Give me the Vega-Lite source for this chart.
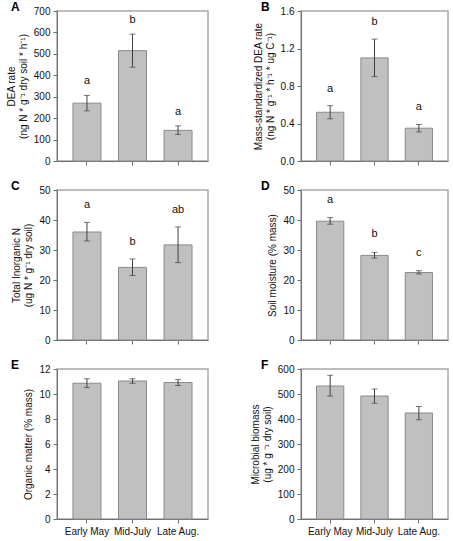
{
  "$schema": "https://vega.github.io/schema/vega-lite/v6.json",
  "background": "white",
  "padding": {"left": 5, "top": 0, "right": 5, "bottom": 2},
  "config": {
    "font": "Liberation Sans",
    "view": {"stroke": "#a8a8a8", "strokeWidth": 1.5},
    "axis": {
      "grid": false,
      "domainColor": "#707070",
      "tickColor": "#707070",
      "labelColor": "#111111",
      "titleColor": "#111111",
      "labelFont": "Liberation Sans",
      "titleFont": "Liberation Sans",
      "labelFontSize": 10,
      "titleFontSize": 10,
      "titleFontWeight": "normal",
      "tickSize": 4,
      "labelPadding": 3,
      "titlePadding": 5,
      "labelOverlap": false,
      "labelFlush": false
    },
    "title": {"font": "Liberation Sans", "fontSize": 12, "fontWeight": "bold", "anchor": "start", "frame": "group", "color": "black"},
    "bar": {"fill": "#c0c0c0", "stroke": "#8a8a8a", "strokeWidth": 1}
  },
  "columns": 2,
  "spacing": {"row": 12, "column": 40},
  "concat": [
    {
      "width": 151, "height": 150,
      "title": {"text": "A", "dx": -46, "offset": -8},
      "data": {"values": [
        {"period": "Early May", "mean": 270, "lo": 234, "hi": 306, "sig": "a"},
        {"period": "Mid-July", "mean": 515, "lo": 438, "hi": 592, "sig": "b"},
        {"period": "Late Aug.", "mean": 143, "lo": 124, "hi": 164, "sig": "a"}
      ]},
      "encoding": {"x": {"field": "period", "type": "nominal", "sort": null, "scale": {"paddingInner": 0.385, "paddingOuter": 0.35}, "axis": {"title": null, "labels": false}}},
      "layer": [
        {"mark": "bar", "encoding": {"y": {"field": "mean", "type": "quantitative", "scale": {"domain": [0, 700]}, "axis": {"values": [0, 100, 200, 300, 400, 500, 600, 700]}, "title": ["DEA rate", "(ng N * g⁻¹ dry soil * h⁻¹)"]}}},
        {"mark": {"type": "errorbar", "ticks": {"size": 6}, "color": "#404040"}, "encoding": {"y": {"field": "lo", "type": "quantitative", "axis": {"values": [0, 100, 200, 300, 400, 500, 600, 700]}, "title": ["DEA rate", "(ng N * g⁻¹ dry soil * h⁻¹)"]}, "y2": {"field": "hi"}}},
        {"mark": {"type": "text", "baseline": "bottom", "dy": -9, "fontSize": 11, "fill": "#111111", "font": "Liberation Sans"}, "encoding": {"y": {"field": "hi", "type": "quantitative", "axis": {"values": [0, 100, 200, 300, 400, 500, 600, 700]}, "title": ["DEA rate", "(ng N * g⁻¹ dry soil * h⁻¹)"]}, "text": {"field": "sig"}}}
      ]
    },
    {
      "width": 147, "height": 150,
      "title": {"text": "B", "dx": -40, "offset": -8},
      "data": {"values": [
        {"period": "Early May", "mean": 0.52, "lo": 0.45, "hi": 0.59, "sig": "a"},
        {"period": "Mid-July", "mean": 1.1, "lo": 0.9, "hi": 1.3, "sig": "b"},
        {"period": "Late Aug.", "mean": 0.35, "lo": 0.31, "hi": 0.39, "sig": "a"}
      ]},
      "encoding": {"x": {"field": "period", "type": "nominal", "sort": null, "scale": {"paddingInner": 0.385, "paddingOuter": 0.35}, "axis": {"title": null, "labels": false}}},
      "layer": [
        {"mark": "bar", "encoding": {"y": {"field": "mean", "type": "quantitative", "scale": {"domain": [0, 1.6]}, "axis": {"values": [0, 0.4, 0.8, 1.2, 1.6], "format": ".1f"}, "title": ["Mass-standardized DEA rate", "(ng N * g⁻¹ * h⁻¹ * ug C⁻¹)"]}}},
        {"mark": {"type": "errorbar", "ticks": {"size": 6}, "color": "#404040"}, "encoding": {"y": {"field": "lo", "type": "quantitative", "axis": {"values": [0, 0.4, 0.8, 1.2, 1.6], "format": ".1f"}, "title": ["Mass-standardized DEA rate", "(ng N * g⁻¹ * h⁻¹ * ug C⁻¹)"]}, "y2": {"field": "hi"}}},
        {"mark": {"type": "text", "baseline": "bottom", "dy": -12, "fontSize": 11, "fill": "#111111", "font": "Liberation Sans"}, "encoding": {"y": {"field": "hi", "type": "quantitative", "axis": {"values": [0, 0.4, 0.8, 1.2, 1.6], "format": ".1f"}, "title": ["Mass-standardized DEA rate", "(ng N * g⁻¹ * h⁻¹ * ug C⁻¹)"]}, "text": {"field": "sig"}}}
      ]
    },
    {
      "width": 151, "height": 150,
      "title": {"text": "C", "dx": -46, "offset": -8},
      "data": {"values": [
        {"period": "Early May", "mean": 36, "lo": 33, "hi": 39.2, "sig": "a"},
        {"period": "Mid-July", "mean": 24.2, "lo": 21.5, "hi": 27, "sig": "b"},
        {"period": "Late Aug.", "mean": 31.7, "lo": 25.8, "hi": 37.7, "sig": "ab"}
      ]},
      "encoding": {"x": {"field": "period", "type": "nominal", "sort": null, "scale": {"paddingInner": 0.385, "paddingOuter": 0.35}, "axis": {"title": null, "labels": false}}},
      "layer": [
        {"mark": "bar", "encoding": {"y": {"field": "mean", "type": "quantitative", "scale": {"domain": [0, 50]}, "axis": {"values": [0, 10, 20, 30, 40, 50]}, "title": ["Total Inorganic N", "(ug N * g⁻¹ dry soil)"]}}},
        {"mark": {"type": "errorbar", "ticks": {"size": 6}, "color": "#404040"}, "encoding": {"y": {"field": "lo", "type": "quantitative", "axis": {"values": [0, 10, 20, 30, 40, 50]}, "title": ["Total Inorganic N", "(ug N * g⁻¹ dry soil)"]}, "y2": {"field": "hi"}}},
        {"mark": {"type": "text", "baseline": "bottom", "dy": -12, "fontSize": 11, "fill": "#111111", "font": "Liberation Sans"}, "encoding": {"y": {"field": "hi", "type": "quantitative", "axis": {"values": [0, 10, 20, 30, 40, 50]}, "title": ["Total Inorganic N", "(ug N * g⁻¹ dry soil)"]}, "text": {"field": "sig"}}}
      ]
    },
    {
      "width": 147, "height": 150,
      "title": {"text": "D", "dx": -40, "offset": -8},
      "data": {"values": [
        {"period": "Early May", "mean": 39.6, "lo": 38.6, "hi": 40.8, "sig": "a"},
        {"period": "Mid-July", "mean": 28.2, "lo": 27.3, "hi": 29.2, "sig": "b"},
        {"period": "Late Aug.", "mean": 22.5, "lo": 22.0, "hi": 23.1, "sig": "c"}
      ]},
      "encoding": {"x": {"field": "period", "type": "nominal", "sort": null, "scale": {"paddingInner": 0.385, "paddingOuter": 0.35}, "axis": {"title": null, "labels": false}}},
      "layer": [
        {"mark": "bar", "encoding": {"y": {"field": "mean", "type": "quantitative", "scale": {"domain": [0, 50]}, "axis": {"values": [0, 10, 20, 30, 40, 50]}, "title": "Soil moisture (% mass)"}}},
        {"mark": {"type": "errorbar", "ticks": {"size": 6}, "color": "#404040"}, "encoding": {"y": {"field": "lo", "type": "quantitative", "axis": {"values": [0, 10, 20, 30, 40, 50]}, "title": "Soil moisture (% mass)"}, "y2": {"field": "hi"}}},
        {"mark": {"type": "text", "baseline": "bottom", "dy": -13, "fontSize": 11, "fill": "#111111", "font": "Liberation Sans"}, "encoding": {"y": {"field": "hi", "type": "quantitative", "axis": {"values": [0, 10, 20, 30, 40, 50]}, "title": "Soil moisture (% mass)"}, "text": {"field": "sig"}}}
      ]
    },
    {
      "width": 151, "height": 150,
      "title": {"text": "E", "dx": -46, "offset": -8},
      "data": {"values": [
        {"period": "Early May", "mean": 10.86, "lo": 10.52, "hi": 11.22},
        {"period": "Mid-July", "mean": 11.04, "lo": 10.86, "hi": 11.22},
        {"period": "Late Aug.", "mean": 10.92, "lo": 10.68, "hi": 11.15}
      ]},
      "encoding": {"x": {"field": "period", "type": "nominal", "sort": null, "scale": {"paddingInner": 0.385, "paddingOuter": 0.35}, "axis": {"title": null, "labelAngle": 0}}},
      "layer": [
        {"mark": "bar", "encoding": {"y": {"field": "mean", "type": "quantitative", "scale": {"domain": [0, 12]}, "axis": {"values": [0, 2, 4, 6, 8, 10, 12]}, "title": "Organic matter (% mass)"}}},
        {"mark": {"type": "errorbar", "ticks": {"size": 6}, "color": "#404040"}, "encoding": {"y": {"field": "lo", "type": "quantitative", "axis": {"values": [0, 2, 4, 6, 8, 10, 12]}, "title": "Organic matter (% mass)"}, "y2": {"field": "hi"}}}
      ]
    },
    {
      "width": 147, "height": 150,
      "title": {"text": "F", "dx": -40, "offset": -8},
      "data": {"values": [
        {"period": "Early May", "mean": 532, "lo": 492, "hi": 575},
        {"period": "Mid-July", "mean": 492, "lo": 463, "hi": 520},
        {"period": "Late Aug.", "mean": 424, "lo": 397, "hi": 450}
      ]},
      "encoding": {"x": {"field": "period", "type": "nominal", "sort": null, "scale": {"paddingInner": 0.385, "paddingOuter": 0.35}, "axis": {"title": null, "labelAngle": 0}}},
      "layer": [
        {"mark": "bar", "encoding": {"y": {"field": "mean", "type": "quantitative", "scale": {"domain": [0, 600]}, "axis": {"values": [0, 100, 200, 300, 400, 500, 600]}, "title": ["Microbial biomass", "(ug * g ⁻¹ dry soil)"]}}},
        {"mark": {"type": "errorbar", "ticks": {"size": 6}, "color": "#404040"}, "encoding": {"y": {"field": "lo", "type": "quantitative", "axis": {"values": [0, 100, 200, 300, 400, 500, 600]}, "title": ["Microbial biomass", "(ug * g ⁻¹ dry soil)"]}, "y2": {"field": "hi"}}}
      ]
    }
  ]
}
